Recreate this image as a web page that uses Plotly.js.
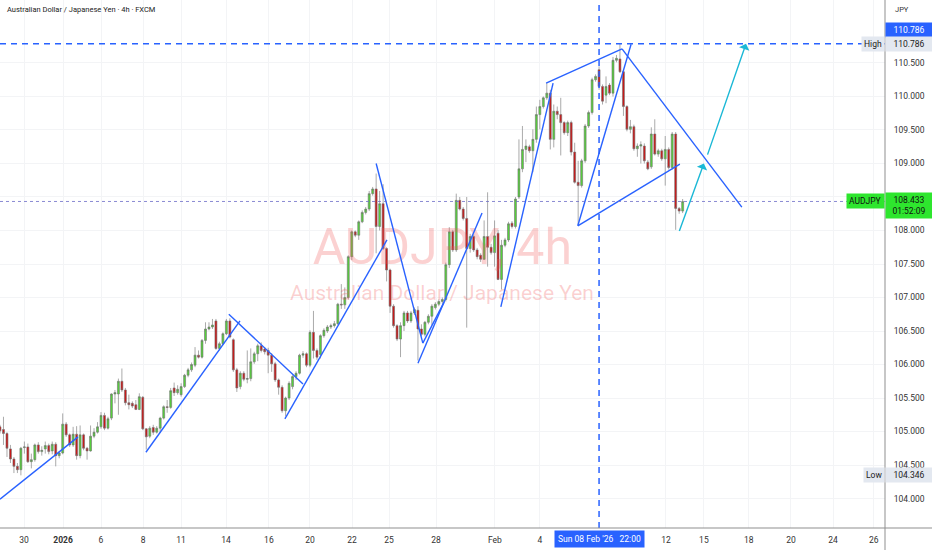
<!DOCTYPE html>
<html><head><meta charset="utf-8">
<script src="https://cdn.plot.ly/plotly-3.0.1.min.js"></script>
<style>html,body{margin:0;padding:0;background:#fff}#chart{width:932px;height:550px}</style>
</head><body><div id="chart"></div>
<script>
// AUDJPY 4h candles (oldest -> newest)
const opens = [
105.07,105.03,104.97,104.74,104.59,104.48,104.43,104.76,104.77,104.55,
104.58,104.80,104.70,104.74,104.79,104.71,104.81,104.64,104.68,105.11,
104.95,104.80,104.96,104.64,104.95,104.75,104.71,104.93,104.99,105.07,
105.24,105.05,105.20,105.56,105.56,105.75,105.62,105.43,105.42,105.40,
105.33,105.51,105.04,104.93,105.06,104.99,105.05,105.20,105.37,105.36,
105.65,105.58,105.55,105.67,105.84,105.92,105.99,106.14,106.11,106.36,
106.53,106.56,106.65,106.24,106.31,106.46,106.65,106.37,105.92,105.67,
105.87,105.78,105.79,106.04,106.16,106.28,106.23,106.21,106.14,106.01,
105.77,105.66,105.31,105.50,105.67,105.82,105.87,106.14,106.16,105.99,
106.48,106.21,106.15,106.43,106.50,106.56,106.58,106.61,106.90,106.89,
107.00,107.61,107.98,107.93,108.13,108.27,108.32,108.55,108.62,108.06,
108.40,107.73,107.41,106.87,106.58,106.38,106.58,106.77,106.65,106.77,
106.81,106.53,106.45,106.63,106.72,106.85,106.90,106.94,106.97,107.49,
107.98,107.71,108.45,108.32,108.18,107.73,107.91,107.71,107.63,107.57,
107.91,107.75,107.67,107.96,107.27,107.78,107.86,108.11,108.06,108.50,
108.92,109.21,109.25,109.19,109.36,109.73,109.85,109.98,110.05,109.36,
109.78,109.73,109.61,109.46,109.61,109.17,108.72,108.67,109.04,109.56,
109.76,110.25,110.40,110.15,110.02,110.17,110.05,110.54,110.56,110.37,
109.85,109.51,109.55,109.22,109.26,109.26,109.02,108.95,109.44,109.14,
109.19,109.07,109.21,108.94,109.44,108.33,108.29];
const highs = [
105.10,105.22,104.99,104.80,104.62,104.53,104.77,104.85,104.82,104.67,
104.82,104.84,104.78,104.85,104.82,104.85,104.84,104.71,105.27,105.14,
104.97,105.07,105.08,105.09,104.97,104.77,105.09,105.05,105.14,105.29,
105.28,105.22,105.57,105.62,105.79,105.94,105.65,105.55,105.45,105.47,
105.57,105.53,105.05,105.08,105.10,105.08,105.22,105.39,105.47,105.65,
105.73,105.69,105.72,105.86,105.95,106.03,106.26,106.21,106.38,106.63,
106.63,106.68,106.68,106.34,106.48,106.68,106.69,106.39,105.95,105.90,
105.90,106.21,106.24,106.19,106.31,106.33,106.26,106.25,106.17,106.04,
105.79,105.69,105.52,105.75,105.84,105.90,106.16,106.20,106.18,106.51,
106.80,106.24,106.45,106.54,106.59,106.61,106.65,106.92,107.20,107.15,
107.63,108.00,108.00,108.15,108.30,108.35,108.59,108.65,108.85,108.59,
108.69,107.75,107.43,106.90,106.60,106.63,106.80,106.80,106.80,106.85,
106.87,106.60,106.65,106.75,106.90,106.93,106.97,107.00,107.52,108.05,
108.01,108.55,108.50,108.35,108.50,107.95,107.94,107.74,107.66,108.15,
108.57,107.80,108.15,108.01,107.86,107.89,108.13,108.14,108.50,109.36,
109.56,109.36,109.28,109.51,109.85,109.95,110.00,110.20,110.10,109.88,
109.85,109.98,109.63,109.64,109.64,109.31,109.04,109.07,109.59,109.79,
110.28,110.33,110.45,110.18,110.30,110.20,110.59,110.62,110.786,110.40,
109.87,109.65,109.58,109.30,109.33,109.30,109.05,109.54,109.66,109.22,
109.22,109.41,109.24,109.47,109.47,108.35,108.47];
const lows = [
104.97,104.80,104.62,104.53,104.38,104.38,104.346,104.67,104.53,104.45,
104.55,104.67,104.64,104.67,104.66,104.66,104.48,104.60,104.66,104.92,
104.77,104.77,104.58,104.60,104.72,104.58,104.70,104.90,104.97,105.04,
105.02,105.03,105.17,105.42,105.25,105.59,105.39,105.33,105.35,105.32,
105.32,105.02,104.73,104.90,104.95,104.97,104.98,105.18,105.28,105.34,
105.53,105.55,105.52,105.65,105.81,105.89,105.96,106.09,106.09,106.31,
106.51,106.53,106.22,106.21,106.29,106.44,106.39,105.89,105.59,105.63,
105.75,105.72,105.75,106.01,106.05,106.18,106.15,105.87,105.89,105.74,
105.55,105.28,105.23,105.47,105.63,105.77,105.85,106.10,105.96,105.96,
106.09,106.07,106.09,106.40,106.47,106.53,106.55,106.59,106.83,106.83,
106.97,107.56,107.90,107.86,108.11,108.24,108.29,108.52,107.66,108.00,
107.71,107.24,106.77,106.55,106.35,106.11,106.50,106.62,106.62,106.74,
106.06,106.42,106.42,106.60,106.59,106.82,106.87,106.91,106.94,107.44,
107.68,107.68,108.30,108.15,106.55,107.67,107.68,107.57,107.53,107.56,
107.46,107.64,107.46,107.26,107.12,107.75,107.83,108.03,108.03,108.47,
108.87,109.02,109.16,108.87,109.31,109.51,109.82,109.95,109.21,109.24,
109.66,109.12,109.43,109.41,109.12,108.70,108.08,108.64,109.01,109.53,
109.73,110.22,110.10,109.88,109.90,110.02,110.00,110.51,110.35,109.71,
109.48,109.45,109.19,109.10,109.00,109.00,108.90,108.92,109.12,109.10,
109.04,108.67,108.91,108.91,108.01,108.25,108.26];
const closes = [
105.01,104.97,104.75,104.59,104.48,104.43,104.75,104.77,104.55,104.58,
104.80,104.70,104.72,104.79,104.70,104.81,104.64,104.68,105.11,104.95,
104.80,104.96,104.64,104.95,104.75,104.71,104.93,104.99,105.07,105.24,
105.05,105.19,105.56,105.58,105.75,105.62,105.43,105.40,105.38,105.33,
105.52,105.04,104.92,105.05,104.99,105.05,105.20,105.37,105.36,105.61,
105.58,105.63,105.67,105.84,105.92,106.00,106.14,106.11,106.36,106.53,
106.56,106.59,106.24,106.31,106.46,106.65,106.41,105.92,105.65,105.87,
105.78,105.79,106.04,106.16,106.28,106.21,106.19,106.14,106.01,105.77,
105.66,105.31,105.50,105.72,105.82,105.87,106.14,106.16,105.99,106.48,
106.21,106.11,106.43,106.51,106.56,106.58,106.61,106.90,106.89,107.00,
107.61,107.98,107.93,108.13,108.27,108.32,108.55,108.62,108.06,108.40,
107.73,107.41,106.87,106.58,106.38,106.58,106.77,106.65,106.77,106.82,
106.53,106.45,106.63,106.72,106.87,106.90,106.94,106.97,107.49,107.98,
107.71,108.45,108.32,108.18,107.73,107.91,107.71,107.61,107.57,107.91,
107.75,107.67,107.92,107.27,107.78,107.86,108.10,108.06,108.47,108.92,
109.21,109.26,109.19,109.36,109.73,109.85,109.98,110.05,109.36,109.78,
109.73,109.61,109.46,109.61,109.17,108.72,108.67,109.04,109.56,109.76,
110.25,110.30,110.15,109.93,110.15,110.05,110.54,110.57,110.37,109.85,
109.51,109.55,109.22,109.26,109.28,109.04,108.92,109.44,109.14,109.19,
109.07,109.21,108.94,109.44,108.33,108.29,108.433];

// time axis labels (bar-index positions)
const dateTickPos = [6.9,18.1,29.0,41.1,52.0,64.9,77.2,89.0,101.1,111.7,125.2,142.1,155.0,191.2,202.1,215.0,227.1,239.2,250.9];
const dateTickLabels = ['30','<b>2026</b>','6','8','11','14','16','20','22','25','28','Feb','4','12','15','18','20','24','26'];
const priceTicks = [104,104.5,105,105.5,106,106.5,107,107.5,108,108.5,109,109.5,110,110.5];

// key levels
const highPrice = 110.786, lowPrice = 104.346, lastPrice = 108.433;
const markerBar = 172.0, markerLabel = "Sun 08 Feb '26   22:00";

// user drawings: [bar0, price0, bar1, price1]
const trendLines = [
  [0,103.99,22.4,104.92],
  [41.9,104.69,68.9,106.65],
  [65.7,106.75,87.0,105.71],
  [81.8,105.19,111.1,107.86],
  [108.0,109.00,121.4,106.32],
  [121.4,106.32,127.5,106.93],
  [120.0,106.02,138.4,108.26],
  [143.8,106.86,158.8,110.20],
  [156.8,110.20,178.6,110.71],
  [165.9,108.07,181.2,110.78],
  [165.9,108.07,195.2,108.99],
  [178.6,110.71,213.0,108.35]
];
const projArrows = [
  [194.9,107.97,202.1,109.00],
  [203.0,109.11,214.2,110.786]
];

const bars = opens.map((_, i) => i);
const FONT = 'Roboto, "Liberation Sans", Arial, sans-serif';
const BLUE = '#2962ff';

const watermark = {
  type: 'scatter', mode: 'text', x: [127.0, 126.9], y: [107.68, 107.04],
  text: ['AUDJPY, 4h', 'Australian Dollar / Japanese Yen'],
  textfont: {family: FONT, size: [50, 21], color: 'rgba(242,90,90,0.28)'},
  textposition: 'middle center', hoverinfo: 'skip', showlegend: false
};

const candles = {
  type: 'candlestick', x: bars, open: opens, high: highs, low: lows, close: closes,
  increasing: {fillcolor: '#55d23a', line: {color: '#707070', width: 0.6}},
  decreasing: {fillcolor: '#cc1515', line: {color: '#707070', width: 0.6}},
  whiskerwidth: 0, showlegend: false, hoverinfo: 'skip'
};

const shapes = [];
trendLines.forEach(s => shapes.push({type: 'line', xref: 'x', yref: 'y', x0: s[0], y0: s[1], x1: s[2], y1: s[3], line: {color: BLUE, width: 1.4}}));
shapes.push({type: 'line', xref: 'paper', yref: 'y', x0: 0, x1: 1, y0: highPrice, y1: highPrice, line: {color: BLUE, width: 1.5, dash: '6px,5px'}});
shapes.push({type: 'line', xref: 'paper', yref: 'y', x0: 0, x1: 1, y0: lastPrice, y1: lastPrice, line: {color: 'rgba(110,110,200,0.8)', width: 1, dash: 'dot'}});
shapes.push({type: 'line', xref: 'x', yref: 'paper', x0: markerBar, x1: markerBar, y0: 0, y1: 1, line: {color: BLUE, width: 1.5, dash: '6px,5px'}});
shapes.push({type: 'line', xref: 'paper', yref: 'paper', x0: 0, x1: 932/885, y0: 0, y1: 0, line: {color: '#8f8f8f', width: 1}});
shapes.push({type: 'line', xref: 'paper', yref: 'paper', x0: 1, x1: 1, y0: -22/528, y1: 1, line: {color: '#8f8f8f', width: 1}});

const annotations = [];
projArrows.forEach(a => annotations.push({xref: 'x', yref: 'y', axref: 'x', ayref: 'y', x: a[2], y: a[3], ax: a[0], ay: a[1], showarrow: true, arrowhead: 1, arrowsize: 1.3, arrowwidth: 1.4, arrowcolor: '#1bb8d6', text: ''}));
const fs = 8.5;
function axisLabel(text, y, bg, color, anchor, extra) {
  return Object.assign({xref: 'paper', yref: 'y', x: 1, y: y, xanchor: anchor, yanchor: 'middle', text: text, showarrow: false,
    bgcolor: bg, borderpad: 2, font: {family: FONT, size: fs, color: color}}, extra || {});
}
annotations.push(axisLabel(highPrice.toFixed(3), 110.99, BLUE, '#fff', 'left', {width: 42}));
annotations.push(axisLabel(highPrice.toFixed(3), highPrice, '#e3e8f0', '#222', 'left', {width: 42}));
annotations.push(axisLabel('High', highPrice, '#e3e8f0', '#222', 'right'));
annotations.push(axisLabel('AUDJPY', lastPrice, '#2ee62e', '#111', 'right'));
annotations.push(axisLabel(lastPrice.toFixed(3) + '<br>01:52:09', 108.37, '#2ee62e', '#111', 'left', {width: 42}));
annotations.push(axisLabel('Low', lowPrice, '#e3e8f0', '#222', 'right'));
annotations.push(axisLabel(lowPrice.toFixed(3), lowPrice, '#e3e8f0', '#222', 'left', {width: 42}));
annotations.push({xref: 'x', yref: 'paper', x: markerBar, y: -11/528, xanchor: 'center', yanchor: 'middle', text: markerLabel,
  showarrow: false, bgcolor: BLUE, borderpad: 3, font: {family: FONT, size: fs, color: '#fff'}});
annotations.push({xref: 'paper', yref: 'paper', x: 5/885, y: 1 - 10/528, xanchor: 'left', yanchor: 'middle', showarrow: false,
  text: 'Australian Dollar / Japanese Yen · 4h · FXCM', font: {family: FONT, size: 7.5, color: '#222'}});
annotations.push({xref: 'paper', yref: 'paper', x: 893/885, y: 1 - 10/528, xanchor: 'left', yanchor: 'middle', showarrow: false,
  text: 'JPY', font: {family: FONT, size: 7.5, color: '#333'}});

const layout = {
  width: 932, height: 550, margin: {l: 0, r: 47, t: 0, b: 22},
  paper_bgcolor: '#fff', plot_bgcolor: '#fff', showlegend: false, hovermode: false, boxgap: 0.2,
  xaxis: {range: [0, 254.1], tickvals: dateTickPos, ticktext: dateTickLabels, showgrid: true, gridcolor: '#f3f4f6',
    zeroline: false, showline: false, ticks: 'outside', ticklen: 4, tickcolor: 'rgba(0,0,0,0)',
    tickfont: {family: FONT, size: fs, color: '#333'}, rangeslider: {visible: false}, fixedrange: true},
  yaxis: {range: [103.56, 111.44], side: 'right', tickvals: priceTicks, tickformat: '.3f', showgrid: true, gridcolor: '#f3f4f6',
    zeroline: false, showline: false, ticks: 'outside', ticklen: 6, tickcolor: 'rgba(0,0,0,0)',
    tickfont: {family: FONT, size: fs, color: '#333'}, fixedrange: true},
  shapes: shapes, annotations: annotations, font: {family: FONT}
};

Plotly.newPlot('chart', [watermark, candles], layout, {staticPlot: true, displayModeBar: false});
</script>
</body></html>
